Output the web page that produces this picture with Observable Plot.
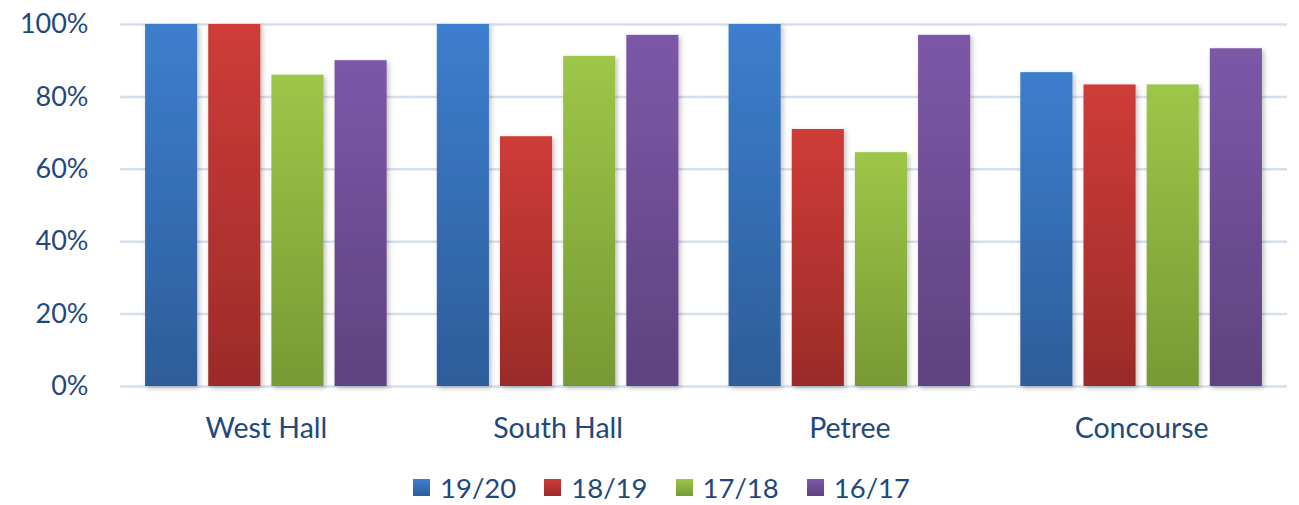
<!DOCTYPE html>
<html>
<head>
<meta charset="utf-8">
<script src="https://cdn.jsdelivr.net/npm/d3@7"></script>
<script src="https://cdn.jsdelivr.net/npm/@observablehq/plot@0.6"></script>
<style>
  html, body { margin: 0; padding: 0; background: #fff; }
  #chart { width: 1299px; }
  .legend { display: flex; justify-content: center; align-items: center; gap: 0; margin-top: 15px;
    font-family: Lato, "Open Sans", sans-serif; font-size: 27.5px; color: #1f497d; padding-left: 24px; }
  .legend .item { display: flex; align-items: center; margin: 0 14px; }
  .legend .sw { width: 17px; height: 17px; margin-right: 10px; }
</style>
</head>
<body>
<div id="chart"></div>
<script>
const halls = ["West Hall", "South Hall", "Petree", "Concourse"];
const seasons = ["19/20", "18/19", "17/18", "16/17"];
const v1920 = [1.00, 1.00, 1.00, 0.867];
const v1819 = [1.00, 0.69, 0.71, 0.833];
const v1718 = [0.86, 0.912, 0.646, 0.833];
const v1617 = [0.90, 0.97, 0.97, 0.933];
const yTicks = [0, 0.2, 0.4, 0.6, 0.8, 1.0];

const topColors = ["#3d7ece", "#cf3c38", "#9ec648", "#7c58a8"];
const bottomColors = ["#2d5d99", "#9b2b29", "#779a34", "#5f427f"];
const gradIds = seasons.map((s, i) => "grad" + i);

const seriesVals = [v1920, v1819, v1718, v1617];
const data = [];
halls.forEach((h, hi) => seasons.forEach((s, si) => data.push({hall: h, season: s, value: seriesVals[si][hi]})));

const chart = Plot.plot({
  width: 1299,
  height: 456,
  marginLeft: 120,
  marginRight: 12,
  marginTop: 24,
  marginBottom: 70,
  style: {fontFamily: "Lato, 'Open Sans', sans-serif", color: "#1f497d", background: "#fff"},
  fx: {domain: halls, padding: 0, round: false, label: null},
  x: {domain: seasons, paddingInner: 0.175, paddingOuter: 0.397, round: false, axis: null},
  y: {domain: [0, 1], label: null},
  color: {domain: seasons, range: gradIds.map(id => `url(#${id})`)},
  marks: [
    Plot.gridY(yTicks, {stroke: "#d5e0ee", strokeOpacity: 1, strokeWidth: 2.5}),
    Plot.barY(data, {fx: "hall", x: "season", y: "value", fill: "season"}),
    Plot.axisY(yTicks, {tickFormat: d => Math.round(d * 100) + "%", tickSize: 0, tickPadding: 32, fontSize: 27, fill: "#1f497d", label: null}),
    Plot.axisFx({anchor: "bottom", tickSize: 0, tickPadding: 31, fontSize: 28.5, fill: "#1f497d", label: null})
  ]
});

const svg = d3.select(chart);
const defs = svg.insert("defs", ":first-child");
gradIds.forEach((id, i) => {
  const g = defs.append("linearGradient").attr("id", id).attr("x1", 0).attr("y1", 0).attr("x2", 0).attr("y2", 1);
  g.append("stop").attr("offset", "0%").attr("stop-color", topColors[i]);
  g.append("stop").attr("offset", "100%").attr("stop-color", bottomColors[i]);
});
const f = defs.append("filter").attr("id", "shadow").attr("x", "-20%").attr("y", "-5%").attr("width", "140%").attr("height", "110%");
f.append("feDropShadow").attr("dx", 2).attr("dy", 2).attr("stdDeviation", 2.5).attr("flood-color", "#000").attr("flood-opacity", 0.25);
svg.selectAll("g[aria-label='bar'] rect").attr("filter", "url(#shadow)");

document.getElementById("chart").appendChild(chart);

const legend = document.createElement("div");
legend.className = "legend";
seasons.forEach((s, i) => {
  const item = document.createElement("div");
  item.className = "item";
  const sw = document.createElement("span");
  sw.className = "sw";
  sw.style.background = `linear-gradient(${topColors[i]}, ${bottomColors[i]})`;
  const t = document.createElement("span");
  t.textContent = s;
  item.appendChild(sw); item.appendChild(t);
  legend.appendChild(item);
});
document.getElementById("chart").appendChild(legend);
</script>
</body>
</html>
